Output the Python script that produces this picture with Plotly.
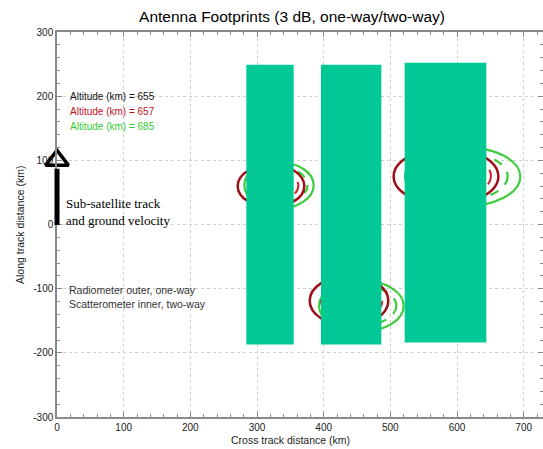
import plotly.graph_objects as go

# ---- data ----
x_ticks = [0, 100, 200, 300, 400, 500, 600, 700]
y_ticks = [-300, -200, -100, 0, 100, 200, 300]

altitudes = ["655", "657", "685"]
alt_colors = ["#111111", "#c0141e", "#33cc33"]

# footprint contours (ellipse bounds in km): beam 1, beam 2, beam 3
red_solid_x = [(271, 371), (379, 497), (505, 662)]
red_solid_y = [(27, 93), (-158, -80), (31, 119)]
red_dash_x = [(286, 362), (396, 488), (526, 651)]
red_dash_y = [(36, 85), (-150, -88), (41, 110)]
green_solid_x = [(281, 385), (393, 520), (522, 695)]
green_solid_y = [(25, 97), (-167, -87), (28, 121)]
green_dash_x = [(293, 376), (408, 509), (541, 676)]
green_dash_y = [(34, 89), (-157, -96), (38, 112)]

# ground-velocity arrow (km)
arrow_x = [0, 0]
arrow_y = [0, 100]

# covering blocks (km)
block_x = [(284, 355), (396, 486.5), (521.5, 644)]
block_y = [(-187, 249), (-187, 249), (-184, 252)]

fig = go.Figure()

fig.add_trace(go.Scatter(
    x=[arrow_x[1]], y=[arrow_y[1]], mode="markers",
    marker=dict(symbol="triangle-up-open", size=20, color="black",
                line=dict(width=3.5, color="black")),
    cliponaxis=False, showlegend=False, hoverinfo="skip"))

fig.add_annotation(x=arrow_x[1], y=arrow_y[1] - 13, ax=arrow_x[0], ay=arrow_y[0] - 3,
                   xref="x", yref="y", axref="x", ayref="y",
                   showarrow=True, arrowhead=0, arrowwidth=5, arrowcolor="black",
                   text="")

shapes = []


def add_ellipses(xs, ys, color, dash, width):
    for (x0, x1), (y0, y1) in zip(xs, ys):
        shapes.append(dict(type="circle", xref="x", yref="y",
                           x0=x0, x1=x1, y0=y0, y1=y1,
                           line=dict(color=color, width=width, dash=dash)))


add_ellipses(green_solid_x, green_solid_y, "#3ccc3c", "solid", 2.2)
add_ellipses(green_dash_x, green_dash_y, "#3ccc3c", "dash", 2.2)
add_ellipses(red_solid_x, red_solid_y, "#a00e16", "solid", 2.5)
add_ellipses(red_dash_x, red_dash_y, "#d0202a", "dash", 2)

for (x0, x1), (y0, y1) in zip(block_x, block_y):
    shapes.append(dict(type="rect", xref="x", yref="y", x0=x0, x1=x1, y0=y0, y1=y1,
                       fillcolor="#00C995", line=dict(width=0), layer="above"))

fig.update_layout(shapes=shapes)

W, H = 543, 449
ml, mr, mt, mb = 57, 0, 32, 32
pw, ph = W - ml - mr, H - mt - mb


def px(x, y):
    return (x - ml) / pw, 1 - (y - mt) / ph


for i, (alt, col) in enumerate(zip(altitudes, alt_colors)):
    xx, yy = px(68, 96 + 15.5 * i)
    fig.add_annotation(x=xx, y=yy, xref="paper", yref="paper",
                       text=f"Altitude (km) = {alt}", showarrow=False,
                       xanchor="left", yanchor="middle",
                       font=dict(family="Liberation Sans, Arial", size=10, color=col))

xx, yy = px(64, 212)
fig.add_annotation(x=xx, y=yy, xref="paper", yref="paper",
                   text="Sub-satellite track<br>and ground velocity", showarrow=False,
                   xanchor="left", yanchor="middle", align="left",
                   font=dict(family="Liberation Serif, Times New Roman", size=13, color="black"))

xx, yy = px(67, 297)
fig.add_annotation(x=xx, y=yy, xref="paper", yref="paper",
                   text="Radiometer outer, one-way<br>Scatterometer inner, two-way",
                   showarrow=False, xanchor="left", yanchor="middle", align="left",
                   font=dict(family="Liberation Sans, Arial", size=10.5, color="#333333"))

# axis titles as annotations at measured positions
xx, yy = px(290, 440)
fig.add_annotation(x=xx, y=yy, xref="paper", yref="paper", text="Cross track distance (km)",
                   showarrow=False, xanchor="center", yanchor="middle",
                   font=dict(family="Liberation Sans, Arial", size=10.5, color="#222222"))
xx, yy = px(20, 225)
fig.add_annotation(x=xx, y=yy, xref="paper", yref="paper", text="Along track distance (km)",
                   showarrow=False, xanchor="center", yanchor="middle", textangle=-90,
                   font=dict(family="Liberation Sans, Arial", size=10.5, color="#222222"))

axis_common = dict(
    showline=True, linecolor="#8a8a8a", linewidth=1.5, mirror="ticks",
    ticks="inside", ticklen=5, tickcolor="#8a8a8a", tickwidth=1,
    showgrid=True, gridcolor="#d0d0d0", griddash="dot", gridwidth=1,
    zeroline=False, automargin=False,
    tickfont=dict(family="Liberation Sans, Arial", size=10, color="#222222"),
    minor=dict(ticks="inside", ticklen=3, tickcolor="#8a8a8a", dtick=20, showgrid=False),
)

fig.update_xaxes(range=[0, 729], tickvals=x_ticks, ticktext=[str(v) for v in x_ticks],
                 ticklabelstandoff=0, **axis_common)
fig.update_yaxes(range=[-300, 300], tickvals=y_ticks, ticktext=[str(v) for v in y_ticks],
                 **axis_common)

fig.update_layout(
    width=W, height=H,
    margin=dict(l=ml, r=mr, t=mt, b=mb, autoexpand=False),
    paper_bgcolor="white", plot_bgcolor="white",
    showlegend=False,
    title=dict(text="Antenna Footprints (3 dB, one-way/two-way)", x=(292 - ml) / pw,
               xanchor="center", xref="paper", y=1 - 17 / H, yanchor="middle",
               font=dict(family="Liberation Sans, Arial", size=15.5, color="#000000")),
)

fig.write_html("out.html", config={"displayModeBar": False},
               post_script="document.body.style.margin='0';document.body.style.overflow='hidden';")
